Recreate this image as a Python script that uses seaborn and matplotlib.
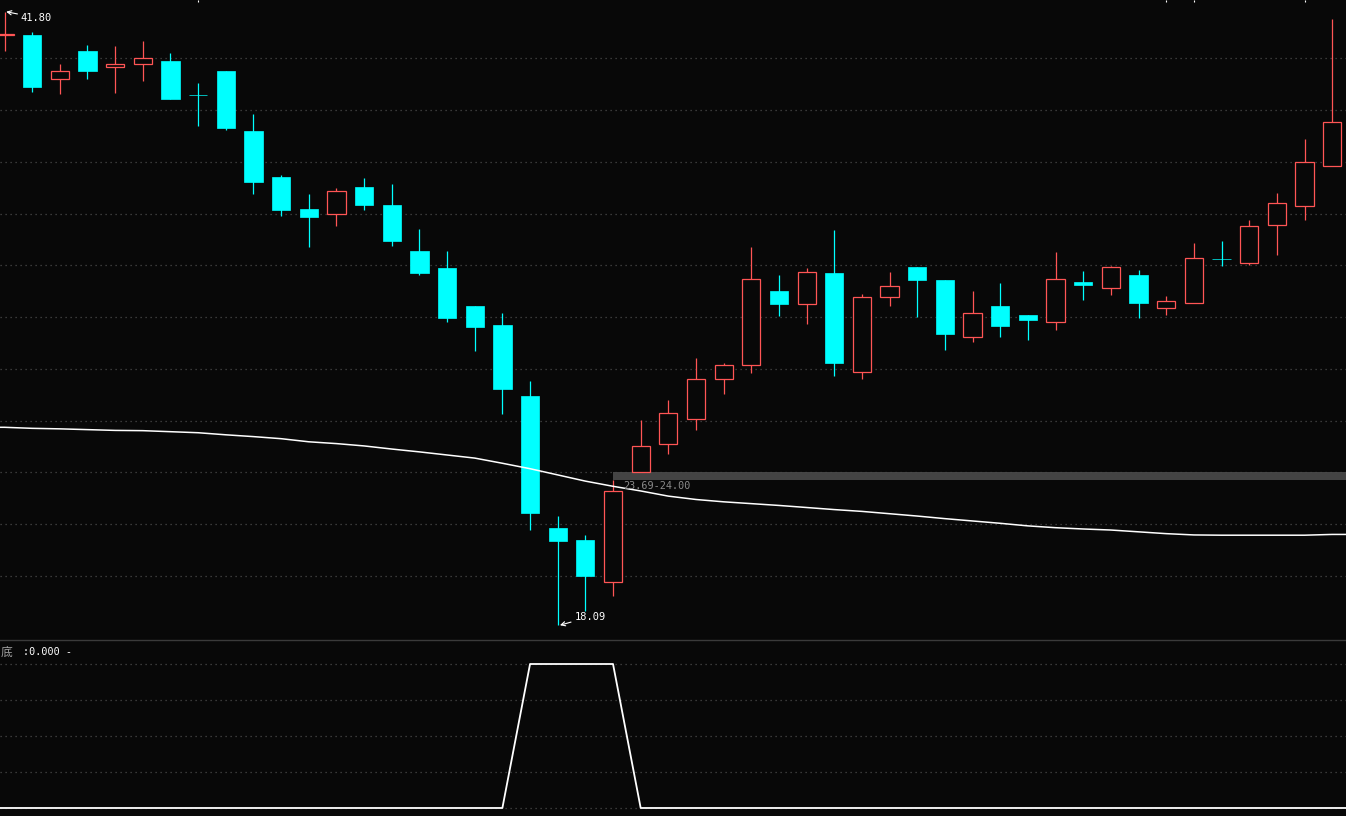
import matplotlib
matplotlib.use('Agg')
import matplotlib.pyplot as plt
import numpy as np
import seaborn as sns

# candle data (price), one entry per bar
opens = [40.90, 40.90, 39.21, 40.28, 39.68, 39.79, 39.90, 38.60, 39.51, 37.19,
         35.41, 34.18, 33.99, 35.03, 34.33, 32.55, 31.90, 30.43, 29.69, 26.95,
         21.85, 21.38, 19.77, 24.00, 25.08, 26.05, 27.59, 28.14, 31.01, 30.49,
         31.70, 27.86, 30.76, 31.93, 31.43, 29.24, 30.43, 30.08, 29.80, 31.35,
         31.11, 31.63, 30.34, 30.53, 32.24, 32.08, 33.55, 34.28, 35.83]
highs = [41.80, 41.00, 39.78, 40.51, 40.48, 40.67, 40.20, 39.05, 39.51, 37.85,
         35.49, 34.76, 34.99, 35.37, 35.14, 33.40, 32.55, 30.43, 30.16, 27.53,
         22.31, 21.58, 23.69, 26.02, 26.79, 28.42, 28.21, 32.71, 31.63, 31.88,
         33.36, 30.89, 31.74, 31.93, 31.43, 31.01, 31.32, 30.08, 32.51, 31.78,
         31.97, 31.82, 30.81, 32.86, 32.94, 33.75, 34.79, 36.88, 41.52]
lows = [40.29, 38.71, 38.63, 39.21, 38.67, 39.13, 38.43, 37.38, 37.24, 34.77,
        33.92, 32.72, 33.53, 34.15, 32.76, 31.64, 29.82, 28.70, 26.27, 21.78,
        18.09, 18.65, 19.23, 24.00, 24.72, 25.65, 27.04, 27.85, 30.05, 29.74,
        27.73, 27.62, 30.44, 30.01, 28.74, 29.05, 29.24, 29.12, 29.51, 30.67,
        30.86, 29.96, 30.09, 30.53, 31.98, 32.02, 32.41, 33.76, 35.83]
closes = [40.90, 38.90, 39.51, 39.52, 39.78, 40.01, 38.43, 38.57, 37.32, 35.23,
          34.15, 33.88, 34.87, 34.34, 32.95, 31.71, 29.98, 29.63, 27.23, 22.44,
          21.36, 20.00, 23.28, 25.00, 26.28, 27.59, 28.14, 31.46, 30.52, 31.73,
          28.24, 30.76, 31.19, 31.43, 29.36, 30.15, 29.65, 29.90, 31.46, 31.25,
          31.92, 30.54, 30.61, 32.27, 32.23, 33.51, 34.40, 35.98, 37.53]
ma_line = [25.74, 25.70, 25.68, 25.65, 25.62, 25.61, 25.57, 25.53, 25.45, 25.38,
           25.30, 25.18, 25.11, 25.02, 24.90, 24.79, 24.67, 24.55, 24.35, 24.14,
           23.90, 23.66, 23.46, 23.28, 23.08, 22.95, 22.86, 22.79, 22.72, 22.64,
           22.56, 22.49, 22.40, 22.31, 22.21, 22.12, 22.03, 21.93, 21.86, 21.81,
           21.77, 21.70, 21.63, 21.58, 21.57, 21.57, 21.57, 21.57, 21.60]
# bottom indicator
di = [0, 0, 0, 0, 0, 0, 0, 0, 0, 0, 0, 0, 0, 0, 0, 0, 0, 0, 0, 1,
      1, 1, 1, 0, 0, 0, 0, 0, 0, 0, 0, 0, 0, 0, 0, 0, 0, 0, 0, 0,
      0, 0, 0, 0, 0, 0, 0, 0, 0]
gap_lo, gap_hi = 23.69, 24.00
hi_label, lo_label = '41.80', '18.09'

bg = '#080808'
red = '#ff5555'
cyan = '#00ffff'
grid_c = '#4a4a4a'

sns.set_theme(style='dark', rc={'axes.facecolor': bg, 'figure.facecolor': bg})
plt.rcParams['font.family'] = ['DejaVu Sans', 'Noto Sans CJK SC']

fig = plt.figure(figsize=(13.46, 8.16), dpi=100)
ax = fig.add_axes([0, 176/816, 1, 640/816])
ax2 = fig.add_axes([0, 0, 1, 176/816])
x_lo, x_hi = -0.163, 48.5

o = np.array(opens); c = np.array(closes)
h = np.array(highs); l = np.array(lows)
x = np.arange(len(o))
up = c >= o
cols = np.where(up, red, cyan)

# grid
for p in range(20, 42, 2):
    ax.axhline(p, color=grid_c, lw=0.9, ls=(0, (1, 3)), zorder=1)
for v in [0, 0.25, 0.5, 0.75, 1.0]:
    ax2.axhline(v, color=grid_c, lw=0.9, ls=(0, (1, 3)), zorder=1)

# gap band
ax.fill_between([22, 49], gap_lo, gap_hi, color='#444444', lw=0, zorder=0.8)

# candles
ax.vlines(x, l, h, colors=cols, lw=0.9, zorder=2)
bottoms = np.minimum(o, c)
heights = np.maximum(np.abs(c - o), 0.03)
ax.bar(x[up], heights[up], bottom=bottoms[up], width=0.66, facecolor=bg,
       edgecolor=red, lw=0.9, zorder=3)
ax.bar(x[~up], heights[~up], bottom=bottoms[~up], width=0.66, facecolor=cyan,
       edgecolor=cyan, lw=0.5, zorder=3)

# lines run to the panel edges
xe = np.r_[x_lo, x, x_hi]
sns.lineplot(x=xe, y=np.r_[ma_line[0], ma_line, ma_line[-1]], ax=ax,
             color='white', lw=1.1, zorder=4)
sns.lineplot(x=xe, y=np.r_[di[0], di, di[-1]], ax=ax2,
             color='white', lw=1.3, zorder=4)

# labels
mono = 'DejaVu Sans Mono'
ax.annotate(hi_label, xy=(0.06, 41.80), xytext=(0.586, 41.57), color='white',
            fontsize=7.5, family=mono, ha='left', va='center',
            arrowprops=dict(arrowstyle='->', color='white', lw=0.8,
                            shrinkA=0, shrinkB=0))
ax.annotate(lo_label, xy=(20.08, 18.09), xytext=(20.6, 18.42), color='white',
            fontsize=7.5, family=mono, ha='left', va='center',
            arrowprops=dict(arrowstyle='->', color='white', lw=0.8,
                            shrinkA=0, shrinkB=0))
ax.text(22.35, 23.47, '%.2f-%.2f' % (gap_lo, gap_hi), color='#8a8a8a',
        fontsize=7.3, family=mono, ha='left', va='center', zorder=5)

fig.text(1/1346, 1 - 652/816, '底', color='#a0a0a0', fontsize=8.5,
         family=['Noto Sans CJK SC', 'DejaVu Sans'], ha='left', va='center')
fig.text(23/1346, 1 - 652/816, ':0.000 -', color='white', fontsize=7.3,
         family=mono, ha='left', va='center')

# axes setup
ax.set_xlim(x_lo, x_hi)
ax.set_ylim(17.52, 42.253)
ax2.set_xlim(x_lo, x_hi)
ax2.set_ylim(-0.0556, 1.1667)
for a in (ax, ax2):
    a.set_yticks([])
    a.set_xlabel('')
    a.set_ylabel('')
    for s in a.spines.values():
        s.set_visible(False)
ax.set_xticks([7, 42, 43, 47])
ax.tick_params(axis='x', top=True, bottom=False, labeltop=False,
               labelbottom=False, direction='in', length=1.5, width=0.8,
               color='white')
ax2.set_xticks([])
ax2.spines['top'].set_visible(True)
ax2.spines['top'].set_color('#3a3a3a')
ax2.spines['top'].set_linewidth(1.0)

fig.savefig('out.png', dpi=100, facecolor=bg)
